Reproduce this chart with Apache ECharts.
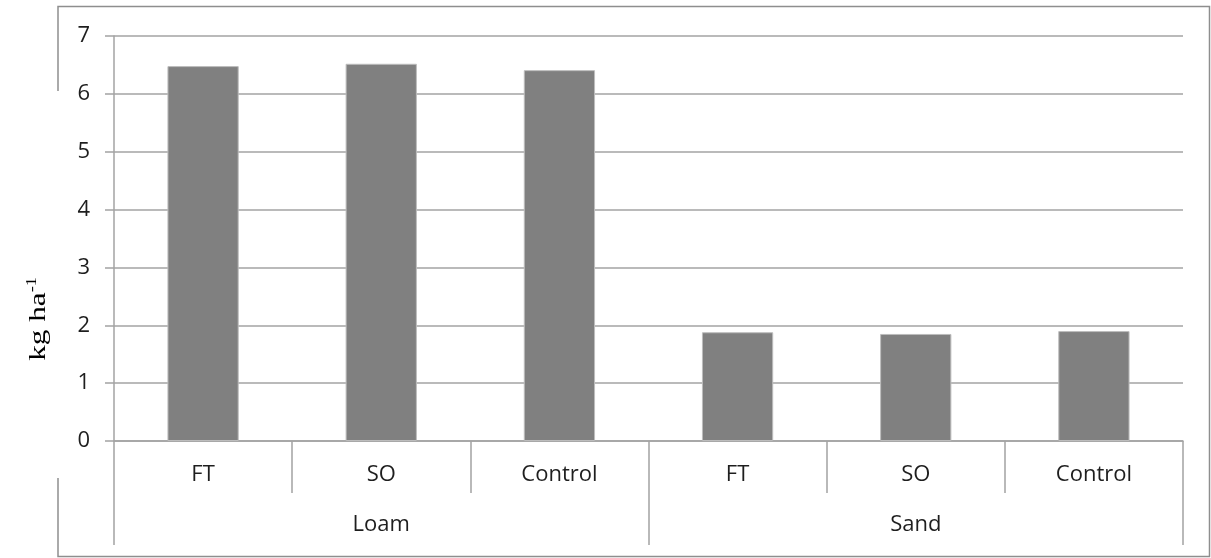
<!DOCTYPE html>
<html>
<head>
<meta charset="utf-8">
<script src="https://cdn.jsdelivr.net/npm/echarts@6/dist/echarts.min.js"></script>
<style>
  html, body { margin: 0; padding: 0; background: #fff; }
  #chart { width: 1211px; height: 558px; }
</style>
</head>
<body>
<div id="chart"></div>
<script>
// Treatments within each soil type, and the soil groups
const treatments = ['FT', 'SO', 'Control', 'FT', 'SO', 'Control'];
const soils = ['Loam', 'Sand'];
// Amounts in kg ha-1
const values = [6.48, 6.52, 6.41, 1.88, 1.85, 1.90];
const yTicks = [0, 1, 2, 3, 4, 5, 6, 7];

const labelFont = '"Open Sans", sans-serif';
const serifFont = '"Liberation Serif", "Times New Roman", serif';
const gridColor = '#a3a3a3';
const frameColor = '#8e8e8e';

const chart = echarts.init(document.getElementById('chart'), null, { renderer: 'canvas' });

chart.setOption({
  animation: false,
  backgroundColor: '#ffffff',
  grid: { left: 114, right: 28, top: 36, bottom: 117 },
  xAxis: [
    {
      type: 'category',
      data: treatments,
      position: 'bottom',
      axisLine: { show: true, lineStyle: { color: gridColor, width: 1.5 } },
      axisTick: { show: true, length: 52, interval: 0, lineStyle: { color: gridColor, width: 1.5 } },
      axisLabel: { interval: 0, margin: 23, fontFamily: labelFont, fontSize: 22, color: '#1e1e1e' },
      splitLine: { show: false }
    },
    {
      type: 'category',
      data: soils,
      position: 'bottom',
      axisLine: { show: false },
      axisTick: { show: true, length: 104, interval: 0, lineStyle: { color: gridColor, width: 1.5 } },
      axisLabel: { interval: 0, margin: 73, fontFamily: labelFont, fontSize: 22, color: '#1e1e1e' },
      splitLine: { show: false }
    }
  ],
  yAxis: {
    type: 'value',
    min: yTicks[0],
    max: yTicks[yTicks.length - 1],
    interval: 1,
    axisLine: { show: true, lineStyle: { color: gridColor, width: 1.5 } },
    axisTick: { show: true, length: 9, lineStyle: { color: gridColor, width: 1.5 } },
    axisLabel: { margin: 24, fontFamily: labelFont, fontSize: 22, color: '#1e1e1e' },
    splitLine: { show: true, lineStyle: { color: gridColor, width: 1.5 } }
  },
  series: [
    {
      type: 'bar',
      data: values,
      xAxisIndex: 0,
      barWidth: '40%',
      itemStyle: { color: '#808080', borderColor: '#bdbdbd', borderWidth: 1 }
    }
  ],
  graphic: [
    // Chart frame, left side broken where the axis title sits
    { type: 'polyline', silent: true, shape: { points: [[58, 91], [58, 6.5], [1209.5, 6.5], [1209.5, 556.5], [58, 556.5], [58, 478]] },
      style: { stroke: frameColor, lineWidth: 1.5, fill: null } },
    // Vertical axis title with superscript exponent
    { type: 'text', silent: true, x: 38, y: 319, rotation: Math.PI / 2, scaleX: 1.3,
      style: {
        text: '{main|kg ha}{sup|-1}',
        align: 'center',
        verticalAlign: 'middle',
        rich: {
          main: { fontFamily: serifFont, fontSize: 24, fill: '#000', lineHeight: 26, verticalAlign: 'bottom' },
          sup: { fontFamily: serifFont, fontSize: 14, fill: '#000', lineHeight: 26, verticalAlign: 'top' }
        }
      } }
  ]
});
</script>
</body>
</html>
